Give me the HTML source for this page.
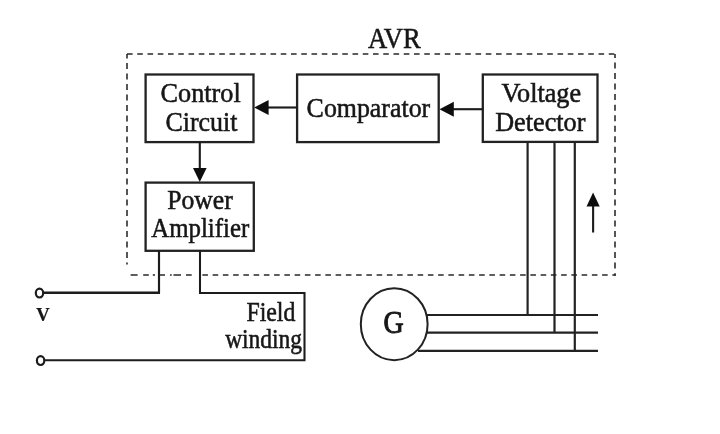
<!DOCTYPE html>
<html lang="en">
<head>
<meta charset="utf-8">
<title>AVR block diagram</title>
<style>
  html, body { margin: 0; padding: 0; background: #fff; }
  body { width: 720px; height: 434px; overflow: hidden; }
  svg { display: block; }
  text { font-family: "Liberation Serif", serif; fill: #161616; stroke: #161616; stroke-width: 0.55; font-size: 27.6px; }
  .ln { stroke: #1c1c1c; stroke-width: 2.15; fill: none; }
  .thin { stroke: #222; stroke-width: 2.2; fill: none; }
  .box { stroke: #222; stroke-width: 2.3; fill: #fff; }
  .dash { stroke: #2a2a2a; stroke-width: 1.6; fill: none; }
  .ah { fill: #111; stroke: none; }
</style>
</head>
<body>
<svg width="720" height="434" viewBox="0 0 720 434">
  <defs>
    <filter id="soft" x="0" y="0" width="720" height="434" filterUnits="userSpaceOnUse">
      <feGaussianBlur stdDeviation="0.72 0.5"/>
    </filter>
  </defs>
  <rect x="0" y="0" width="720" height="434" fill="#ffffff"/>
  <g filter="url(#soft)">

  <!-- AVR dashed enclosure -->
  <path class="dash" style="stroke-width:1.45" d="M126.2 54 H615.8" stroke-dasharray="5.6 4.65" stroke-dashoffset="-0.8"/>
  <path class="dash" d="M127 54 V264.4" stroke-dasharray="6 4.5" stroke-dashoffset="1.4"/>
  <path class="dash" d="M615 54 V275.8" stroke-dasharray="6 4.53" stroke-dashoffset="2"/>
  <path class="dash" style="stroke-width:1.4" d="M130.6 275 H137.6 M143.2 275 H148.8 M152.8 275 H155 M159.6 275 H165 M170 275 H171.7 M173.5 275 H181 M186 275 H191.7"/>
  <path class="dash" style="stroke-width:1.4" d="M202.35 275 H615.8" stroke-dasharray="5.6 4.65"/>
  <text transform="translate(394.3 48) scale(0.905 1)" text-anchor="middle" style="font-size:29.4px">AVR</text>

  <!-- boxes -->
  <rect class="box" x="145.6" y="74.5" width="107.9" height="67.6"/>
  <rect class="box" x="297.1" y="74.5" width="141.6" height="67.6"/>
  <rect class="box" x="482.8" y="74.5" width="114.7" height="67.4"/>
  <rect class="box" x="145.6" y="182.6" width="108.2" height="68.2"/>

  <text transform="translate(200.6 102.3) scale(0.93 1)" text-anchor="middle" style="font-size:28.2px">Control</text>
  <text transform="translate(201.4 131) scale(0.92 1)" text-anchor="middle" style="font-size:28.2px">Circuit</text>
  <text transform="translate(368.4 116.6) scale(0.918 1)" text-anchor="middle" style="font-size:28.2px">Comparator</text>
  <text transform="translate(541.3 102.1) scale(0.95 1)" text-anchor="middle">Voltage</text>
  <text transform="translate(540.3 131.2) scale(0.95 1)" text-anchor="middle">Detector</text>
  <text transform="translate(200.0 208.6) scale(0.93 1)" text-anchor="middle">Power</text>
  <text transform="translate(200.2 237.4) scale(0.9 1)" text-anchor="middle">Amplifier</text>

  <!-- arrows between boxes -->
  <path class="ln" d="M297 107.5 H266"/>
  <path class="ah" d="M254.2 107.5 L268.6 100.1 V114.9 Z"/>
  <path class="ln" d="M482.5 109.2 H452"/>
  <path class="ah" d="M439.5 109.2 L453.8 101.7 V116.7 Z"/>
  <path class="ln" d="M199.8 142 V170"/>
  <path class="ah" d="M199.8 182 L193 168 H206.6 Z"/>

  <!-- up arrow -->
  <path class="ln" style="stroke-width:2.1" d="M593.1 232.5 V205"/>
  <path class="ah" d="M593.1 192.5 L586.5 206.5 H599.7 Z"/>

  <!-- sensing lines -->
  <path class="thin" d="M527.6 142 V315"/>
  <path class="thin" d="M554.5 142 V332.7"/>
  <path class="thin" d="M574.8 142 V350.8"/>

  <!-- generator -->
  <path class="thin" d="M426 315 H598"/>
  <path class="thin" d="M427 332.7 H598"/>
  <path class="thin" d="M418 350.8 H598"/>
  <ellipse cx="394.2" cy="324.2" rx="33.4" ry="36" fill="#fff" stroke="#222" stroke-width="2"/>
  <text transform="translate(393.6 332.7) scale(0.9 1)" text-anchor="middle" style="font-size:31px;stroke-width:0.95">G</text>

  <!-- field circuit -->
  <path class="ln" d="M159 250 V292.7" />
  <path class="ln" style="stroke-width:2.5" d="M160 292.7 H43"/>
  <path class="ln" style="stroke-width:2.05" d="M200 250 V293 H304.5 V360.3 H44"/>
  <ellipse cx="39.5" cy="293.1" rx="3.7" ry="4.4" fill="#fff" stroke="#1c1c1c" stroke-width="2.2"/>
  <ellipse cx="40.6" cy="360.6" rx="3.7" ry="4.4" fill="#fff" stroke="#1c1c1c" stroke-width="2.2"/>
  <text transform="translate(42.9 321) scale(0.97 1)" text-anchor="middle" font-weight="bold" style="font-size:19.2px;stroke-width:0.25">V</text>
  <text transform="translate(270.9 321.1) scale(0.855 1)" text-anchor="middle" style="font-size:27.9px">Field</text>
  <text transform="translate(263.6 347.6) scale(0.85 1)" text-anchor="middle" style="font-size:27.6px">winding</text>
  </g>
</svg>
</body>
</html>
